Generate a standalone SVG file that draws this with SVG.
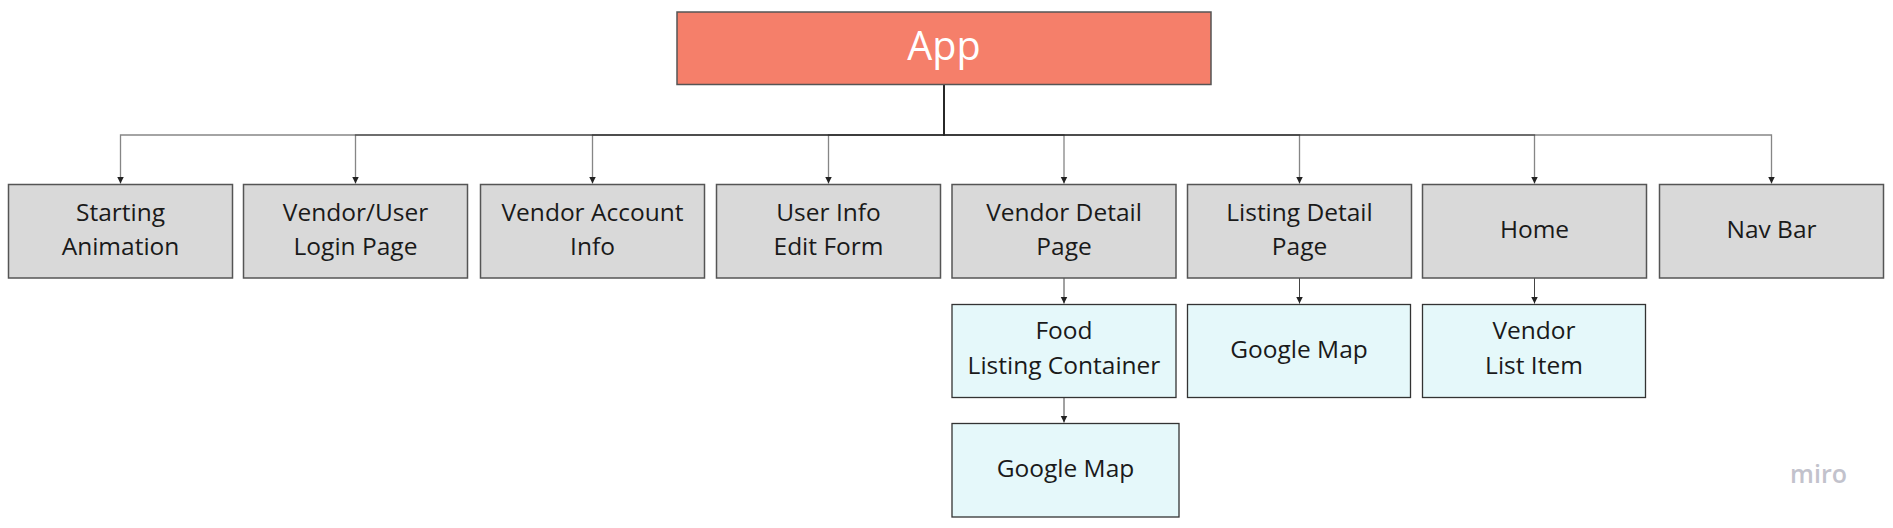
<svg xmlns="http://www.w3.org/2000/svg" width="1893" height="528" viewBox="0 0 1893 528">
<style>
.lbl{font-family:"Open Sans","Liberation Sans",sans-serif;font-size:24.5px;fill:#1a1a1a;text-anchor:middle}
.grey{fill:#d9d9d9;stroke:#555;stroke-width:1.5}
.cyan{fill:#e5f8fa;stroke:#333;stroke-width:1.3}
.con{fill:none;stroke:#222;stroke-opacity:0.55;stroke-width:1.3}
.con2{fill:none;stroke:#444;stroke-width:1}
</style>
<defs>
<marker id="arr" markerUnits="userSpaceOnUse" markerWidth="8" markerHeight="8" refX="7" refY="3.5" orient="auto">
<path d="M0,0 L7,3.5 L0,7 z" fill="#222"/>
</marker>
</defs>
<rect width="1893" height="528" fill="#ffffff"/>
<g id="connectors">
<path class="con" d="M944,84.5 V135 H120.5 V183.5" marker-end="url(#arr)"/>
<path class="con" d="M944,84.5 V135 H355.5 V183.5" marker-end="url(#arr)"/>
<path class="con" d="M944,84.5 V135 H592.5 V183.5" marker-end="url(#arr)"/>
<path class="con" d="M944,84.5 V135 H828.5 V183.5" marker-end="url(#arr)"/>
<path class="con" d="M944,84.5 V135 H1064 V183.5" marker-end="url(#arr)"/>
<path class="con" d="M944,84.5 V135 H1299.5 V183.5" marker-end="url(#arr)"/>
<path class="con" d="M944,84.5 V135 H1534.5 V183.5" marker-end="url(#arr)"/>
<path class="con" d="M944,84.5 V135 H1771.5 V183.5" marker-end="url(#arr)"/>
<path class="con2" d="M1064,278 V303.5" marker-end="url(#arr)"/>
<path class="con2" d="M1299.5,278 V303.5" marker-end="url(#arr)"/>
<path class="con2" d="M1534.5,278 V303.5" marker-end="url(#arr)"/>
<path class="con2" d="M1064,397.5 V422.5" marker-end="url(#arr)"/>
</g>
<g id="app">
<rect x="677" y="12" width="534" height="72.5" fill="#f57f6a" stroke="#555" stroke-width="1.5"/>
<text x="944" y="59.5" style="font-family:'Open Sans','Liberation Sans',sans-serif;font-size:39.5px;fill:#ffffff;text-anchor:middle">App</text>
</g>
<g id="starting-animation">
<rect class="grey" x="8.5" y="184.5" width="224" height="93.5"/>
<text class="lbl" x="120.5" y="221">Starting</text>
<text class="lbl" x="120.5" y="255">Animation</text>
</g>
<g id="login-page">
<rect class="grey" x="243.5" y="184.5" width="224" height="93.5"/>
<text class="lbl" x="355.5" y="221">Vendor/User</text>
<text class="lbl" x="355.5" y="255">Login Page</text>
</g>
<g id="vendor-account-info">
<rect class="grey" x="480.5" y="184.5" width="224" height="93.5"/>
<text class="lbl" x="592.5" y="221">Vendor Account</text>
<text class="lbl" x="592.5" y="255">Info</text>
</g>
<g id="user-info-edit-form">
<rect class="grey" x="716.5" y="184.5" width="224" height="93.5"/>
<text class="lbl" x="828.5" y="221">User Info</text>
<text class="lbl" x="828.5" y="255">Edit Form</text>
</g>
<g id="vendor-detail-page">
<rect class="grey" x="952" y="184.5" width="224" height="93.5"/>
<text class="lbl" x="1064" y="221">Vendor Detail</text>
<text class="lbl" x="1064" y="255">Page</text>
</g>
<g id="listing-detail-page">
<rect class="grey" x="1187.5" y="184.5" width="224" height="93.5"/>
<text class="lbl" x="1299.5" y="221">Listing Detail</text>
<text class="lbl" x="1299.5" y="255">Page</text>
</g>
<g id="home">
<rect class="grey" x="1422.5" y="184.5" width="224" height="93.5"/>
<text class="lbl" x="1534.5" y="238">Home</text>
</g>
<g id="nav-bar">
<rect class="grey" x="1659.5" y="184.5" width="224" height="93.5"/>
<text class="lbl" x="1771.5" y="238">Nav Bar</text>
</g>
<g id="food-listing-container">
<rect class="cyan" x="952" y="304.5" width="224" height="93"/>
<text class="lbl" x="1064" y="339">Food</text>
<text class="lbl" x="1064" y="374">Listing Container</text>
</g>
<g id="google-map-listing">
<rect class="cyan" x="1187.5" y="304.5" width="223" height="93"/>
<text class="lbl" x="1299" y="357.5">Google Map</text>
</g>
<g id="vendor-list-item">
<rect class="cyan" x="1422.5" y="304.5" width="223" height="93"/>
<text class="lbl" x="1534" y="339">Vendor</text>
<text class="lbl" x="1534" y="374">List Item</text>
</g>
<g id="google-map-food">
<rect class="cyan" x="952" y="423.5" width="227" height="93.5"/>
<text class="lbl" x="1065.5" y="476.5">Google Map</text>
</g>
<text x="1818.5" y="482.5" style="font-family:'Open Sans','Liberation Sans',sans-serif;font-size:25px;font-weight:600;fill:#c2c2cc;text-anchor:middle">miro</text>
</svg>
